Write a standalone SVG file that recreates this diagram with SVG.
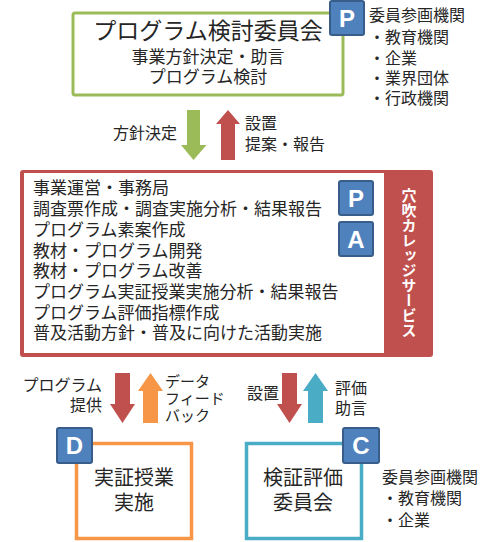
<svg xmlns="http://www.w3.org/2000/svg" width="500" height="542" viewBox="0 0 500 542">
<style>
text{font-family:"Noto Sans CJK JP","Noto Sans CJK SC",sans-serif;fill:#262626}
.t16{font-size:16px}
.t17{font-size:17px}
.t15{font-size:15px}
.badge rect{fill:#4F81BD;stroke:#385D8A;stroke-width:2}
.badge text{font-family:"Liberation Sans",Arial,sans-serif;font-weight:bold;font-size:24px;fill:#fff;text-anchor:middle}
.end{text-anchor:end}
.mid{text-anchor:middle}
</style>
<rect width="500" height="542" fill="#fff"/>

<g id="committee">
<rect x="73" y="13" width="270" height="82" rx="2" fill="#fff" stroke="#9BBB59" stroke-width="3"/>
<text x="208" y="39" class="mid" style="font-size:23px">プログラム検討委員会</text>
<text x="208" y="63" class="mid t17">事業方針決定・助言</text>
<text x="208" y="83" class="mid t17">プログラム検討</text>
<g class="badge"><rect x="330" y="1" width="34" height="34" rx="2"/><text x="347" y="27">P</text></g>
<text x="369" y="21" class="t16">委員参画機関</text>
<text x="369" y="43" class="t16">・教育機関</text>
<text x="369" y="64" class="t16">・企業</text>
<text x="369" y="84" class="t16">・業界団体</text>
<text x="369" y="104" class="t16">・行政機関</text>
</g>

<g id="office">
<rect x="20" y="170" width="413" height="187" rx="3" fill="#C0504D"/>
<rect x="24" y="173" width="360" height="180" fill="#fff"/>
<text x="33" y="194" class="t17">事業運営・事務局</text>
<text x="33" y="215" class="t17">調査票作成・調査実施分析・結果報告</text>
<text x="33" y="236" class="t17">プログラム素案作成</text>
<text x="33" y="257" class="t17">教材・プログラム開発</text>
<text x="33" y="277" class="t17">教材・プログラム改善</text>
<text x="33" y="298" class="t17">プログラム実証授業実施分析・結果報告</text>
<text x="33" y="319" class="t17">プログラム評価指標作成</text>
<text x="33" y="339" class="t17">普及活動方針・普及に向けた活動実施</text>
<g class="badge"><rect x="339" y="181" width="34" height="34" rx="2"/><text x="356" y="207">P</text></g>
<g class="badge"><rect x="339" y="222" width="34" height="34" rx="2"/><text x="356" y="248">A</text></g>
<text x="409" y="263" class="mid" style="font-size:15px;font-weight:bold;fill:#fff;writing-mode:vertical-rl">穴吹カレッジサービス</text>
</g>

<g id="practice">
<rect x="76.5" y="443.5" width="115" height="95" fill="#fff" stroke="#F79646" stroke-width="3.5"/>
<text x="134" y="485" class="mid" style="font-size:20px">実証授業</text>
<text x="134" y="510" class="mid" style="font-size:20px">実施</text>
<g class="badge"><rect x="57" y="428" width="35" height="35" rx="2"/><text x="74.5" y="454">D</text></g>
</g>

<g id="evaluation">
<rect x="246.5" y="443.5" width="115" height="95" fill="#fff" stroke="#4BACC6" stroke-width="3.5"/>
<text x="303" y="485" class="mid" style="font-size:20px">検証評価</text>
<text x="303" y="510" class="mid" style="font-size:20px">委員会</text>
<g class="badge"><rect x="343" y="428" width="36" height="35" rx="2"/><text x="361" y="454">C</text></g>
<text x="382" y="483" class="t16">委員参画機関</text>
<text x="382" y="504" class="t16">・教育機関</text>
<text x="382" y="526" class="t16">・企業</text>
</g>

<g id="connectors">
<path d="M187,110 H200 V145 H206.5 L193.5,160 L181,145 H187 Z" fill="#9BBB59"/>
<path d="M221,160 H235 V124 H240 L228,110 L216,124 H221 Z" fill="#C0504D"/>
<text x="177" y="139" class="end t16">方針決定</text>
<text x="245" y="129" class="t16">設置</text>
<text x="245" y="150" class="t16">提案・報告</text>

<path d="M115,373 H130 V404 H135 L122.5,423 L110,404 H115 Z" fill="#C0504D"/>
<path d="M143,423 H158 V391 H163 L150.5,373 L138,391 H143 Z" fill="#F79646"/>
<text x="102" y="391" class="end t16">プログラム</text>
<text x="102" y="411" class="end t16">提供</text>
<text x="165" y="387" class="t15">データ</text>
<text x="165" y="404" class="t15">フィード</text>
<text x="165" y="421" class="t15">バック</text>

<path d="M282,373 H297 V404 H302 L289.5,423 L277,404 H282 Z" fill="#C0504D"/>
<path d="M308,423 H323 V391 H328 L315.5,373 L303,391 H308 Z" fill="#4BACC6"/>
<text x="279" y="399" class="end t16">設置</text>
<text x="335" y="394" class="t16">評価</text>
<text x="335" y="414" class="t16">助言</text>
</g>
</svg>
